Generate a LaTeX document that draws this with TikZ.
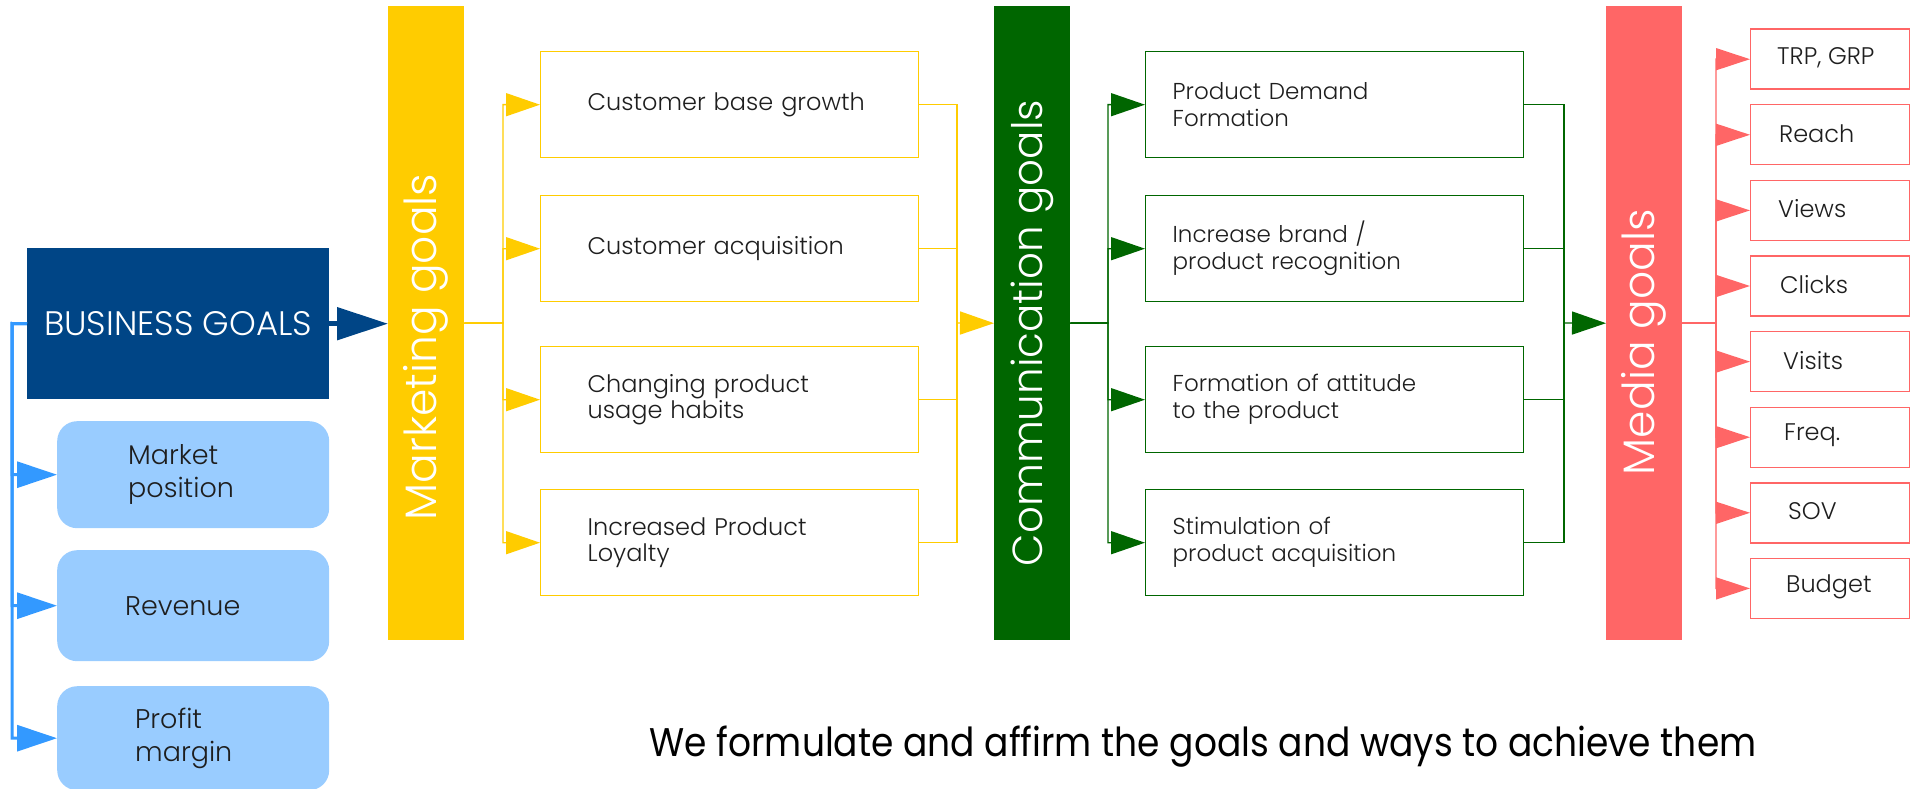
\documentclass[tikz,border=0pt]{standalone}
\usepackage{fontspec}
\setmainfont{Poppins Light}
\newfontfamily\mottofont{Poppins}
\usetikzlibrary{arrows.meta}

\definecolor{bizblue}{RGB}{0,69,134}
\definecolor{paleblue}{RGB}{153,204,255}
\definecolor{linkblue}{RGB}{51,153,255}
\definecolor{mkyellow}{RGB}{255,204,0}
\definecolor{comgreen}{RGB}{0,102,0}
\definecolor{medpink}{RGB}{255,102,102}
\definecolor{ink}{RGB}{30,30,30}

\tikzset{
  goalbar/.style={fill=#1, draw=none, minimum width=76pt, minimum height=634pt,
    inner sep=0pt, anchor=north west},
  bartext/.style={rotate=90, text=white, inner sep=0pt,
    font=\fontsize{44pt}{50pt}\selectfont},
  subbox/.style={draw=#1, line width=1.4pt, fill=white, anchor=north west,
    minimum width=378pt, minimum height=106pt, align=left, text=ink,
    inner ysep=0pt},
  ybox/.style={subbox=mkyellow, inner xsep=47pt, text width=284pt,
    font=\fontsize{24pt}{26pt}\selectfont},
  gbox/.style={subbox=comgreen, inner xsep=27pt, text width=324pt,
    font=\fontsize{23pt}{27pt}\selectfont},
  pbox/.style={draw=medpink, line width=1.4pt, fill=white, anchor=north west,
    minimum width=159pt, minimum height=60pt, inner sep=0pt},
  ptext/.style={anchor=west, text=ink, inner sep=0pt,
    font=\fontsize{24pt}{26pt}\selectfont},
  bbox/.style={fill=paleblue, draw=none, rounded corners=20pt, anchor=north west,
    minimum width=272pt, align=left, text=ink, inner ysep=0pt,
    font=\fontsize{27pt}{33pt}\selectfont},
  tip/.style={-{Triangle[length=34pt,width=23pt]}},
  ylink/.style={draw=mkyellow, line width=1.4pt},
  glink/.style={draw=comgreen, line width=1.4pt},
  plink/.style={draw=medpink, line width=1.4pt},
  blink/.style={draw=linkblue, line width=3pt},
}

\begin{document}
\begin{tikzpicture}[x=1pt,y=-1pt]
\useasboundingbox (0,0) rectangle (1915,789);

% business goals and its sub-goals
\node[fill=bizblue, minimum width=302pt, minimum height=151pt, anchor=north west,
  text=white, inner sep=0pt, font=\fontsize{34pt}{38pt}\selectfont]
  (bg) at (27,248) {BUSINESS GOALS};
\node[bbox, minimum height=107pt, inner xsep=71pt, text width=130pt] (mp) at (57,421) {Market\\position};
\node[bbox, minimum height=111pt, inner xsep=68pt, text width=136pt] (rv) at (57,550) {Revenue};
\node[bbox, minimum height=104pt, inner xsep=78pt, text width=116pt] (pm) at (57,686) {Profit\\margin};

% vertical goal bars
\node[goalbar=mkyellow] (mk) at (388,6) {};
\node[goalbar=comgreen] (cm) at (994,6) {};
\node[goalbar=medpink]  (md) at (1606,6) {};
\node[bartext] (mklabel) at (426,347) {Marketing goals};
\node[bartext, font=\fontsize{42pt}{48pt}\selectfont] (cmlabel) at (1032,333) {Communication goals};
\node[bartext] (mdlabel) at (1644,342) {Media goals};

% marketing goals
\node[ybox] (y1) at (540,51)  {Customer base growth};
\node[ybox] (y2) at (540,195) {Customer acquisition};
\node[ybox] (y3) at (540,346) {Changing product\\usage habits};
\node[ybox] (y4) at (540,489) {Increased Product\\Loyalty};

% communication goals
\node[gbox] (g1) at (1145,51)  {Product Demand\\Formation};
\node[gbox] (g2) at (1145,195) {Increase brand /\\product recognition};
\node[gbox] (g3) at (1145,346) {Formation of attitude\\to the product};
\node[gbox] (g4) at (1145,489) {Stimulation of\\product acquisition};

% media goals
\foreach \lbl/\dx [count=\i from 0] in {{TRP, GRP}/27,Reach/29,Views/28,Clicks/30,Visits/33,Freq./34,SOV/38,Budget/36} {
  \node[pbox] (p\i) at (1750,28.5+75.6*\i) {};
  \node[ptext] (pl\i) at ([xshift=\dx pt, yshift=1.5pt]p\i.west) {\lbl};
}

% bottom line
\node[inner sep=0pt, text=black] (motto) at (1203,747)
  {\scalebox{0.9}[1]{\mottofont\fontsize{40pt}{46pt}\selectfont We formulate and affirm the goals and ways to achieve them}};

% trunk points of the connectors
\coordinate (btrunk) at (12,323.5);
\coordinate (yin)  at (503,323);
\coordinate (yout) at (957,323);
\coordinate (gin)  at (1108,323);
\coordinate (gout) at (1564,323);
\coordinate (pin)  at (1716,323);

% business goals connectors
\draw[draw=bizblue, line width=5pt, -{Triangle[length=51pt,width=32pt]}] (bg.east) -- (mk.west |- bg.east);
\foreach \n in {mp,rv,pm}
  \draw[blink, -{Triangle[length=40pt,width=26pt]}] (bg.west) -- (btrunk) |- (\n.west);

% marketing connectors
\foreach \n in {y1,y2,y3,y4} {
  \draw[ylink, tip] (mk.east) -- (yin) |- (\n.west);
  \draw[ylink] (\n.east) -| (yout);
}
\draw[ylink, tip] (yout) -- (cm.west);

% communication connectors
\foreach \n in {g1,g2,g3,g4} {
  \draw[glink, tip] (cm.east) -- (gin) |- (\n.west);
  \draw[glink] (\n.east) -| (gout);
}
\draw[glink, tip] (gout) -- (md.west);

% media connectors
\foreach \i in {0,...,7}
  \draw[plink, -{Triangle[length=34pt,width=22pt]}] (md.east) -- (pin) |- (p\i.west);
\end{tikzpicture}
\end{document}
